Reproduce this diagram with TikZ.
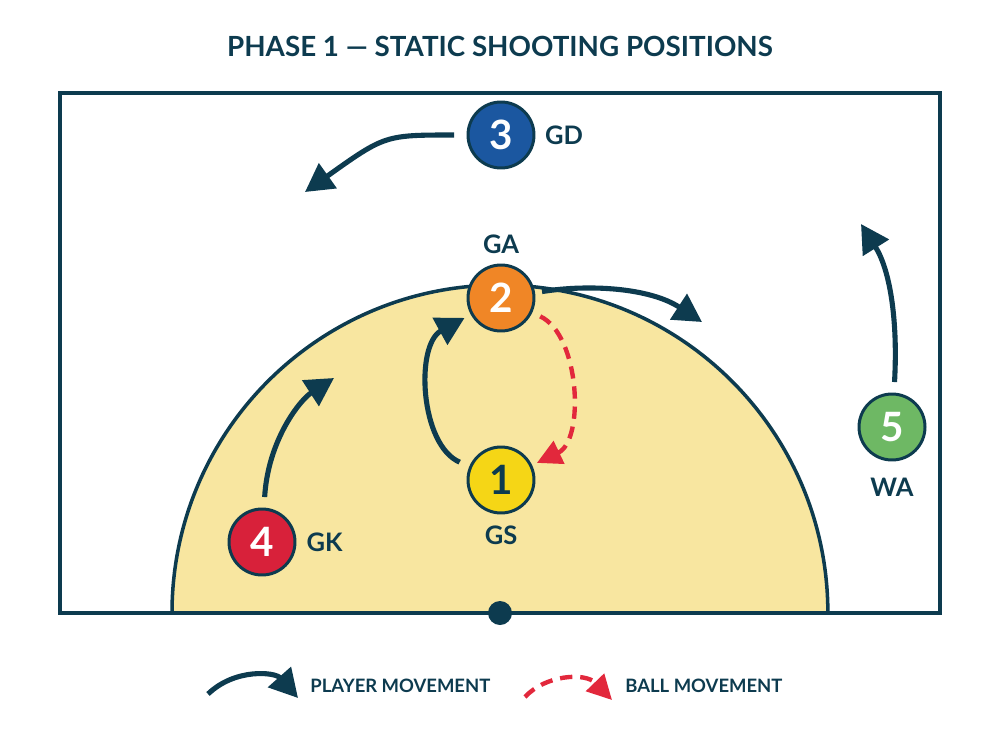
\documentclass[tikz,border=0pt]{standalone}
\usepackage{fontspec}
\setmainfont{Lato}
\usetikzlibrary{
    arrows.meta,
    positioning
}
\definecolor{courtnavy}{RGB}{13,59,79}
\definecolor{courtfill}{RGB}{248,230,160}
\definecolor{gdblue}{RGB}{27,87,160}
\definecolor{gaorange}{RGB}{240,134,38}
\definecolor{gsyellow}{RGB}{245,214,22}
\definecolor{gkred}{RGB}{216,33,58}
\definecolor{wagreen}{RGB}{110,184,100}
\definecolor{ballred}{RGB}{226,40,60}
\tikzset{
  player/.style  = {circle, draw=courtnavy, line width=1.7pt, minimum size=1.32cm,
                    inner sep=0pt, text=white, font=\fontsize{23}{23}\selectfont\bfseries},
  role/.style    = {inner sep=1pt, text=courtnavy, font=\fontsize{14.5}{14.5}\selectfont\bfseries},
  legtxt/.style  = {inner sep=0pt, text=courtnavy, font=\fontsize{10.5}{10.5}\selectfont\bfseries},
  move/.style    = {-{Triangle[length=16pt, width=17pt]}, line width=2.9pt, courtnavy},
  pass/.style    = {-{Triangle[length=14pt, width=14pt]}, line width=2.5pt, ballred,
                    dash pattern=on 7pt off 4.5pt}
}

\begin{document}
\begin{tikzpicture}[x=0.02cm, y=-0.02cm]
  \useasboundingbox (0,0) rectangle (1000,747);
  % title
  \node[text=courtnavy, font=\fontsize{15.8}{15.8}\selectfont\bfseries] (title) at (500,46)
       {PHASE 1 --- STATIC SHOOTING POSITIONS};
  % court
  \fill[courtfill] (172,613) arc[start angle=180, end angle=0, radius=6.56cm] -- cycle;
  \draw[courtnavy, line width=2pt] (172,613) arc[start angle=180, end angle=0, radius=6.56cm];
  \draw[courtnavy, line width=2.3pt] (60,93) rectangle (940,613);
  \node[circle, fill=courtnavy, minimum size=0.48cm, inner sep=0pt] (post) at (500,613) {};
  % players
  \node[player, fill=gsyellow, text=courtnavy] (gs) at (501,480) {1};
  \node[player, fill=gaorange] (ga) at (501,298) {2};
  \node[player, fill=gdblue]   (gd) at (501,135) {3};
  \node[player, fill=gkred]    (gk) at (262,542) {4};
  \node[player, fill=wagreen]  (wa) at (892,427) {5};
  \node[role, right=0.15cm of gd] (gdl) {GD};
  \node[role, above=0.15cm of ga] (gal) {GA};
  \node[role, below=0.18cm of gs] (gsl) {GS};
  \node[role, right=0.16cm of gk] (gkl) {GK};
  \node[role, below=0.28cm of wa] (wal) {WA};
  % movements
  \coordinate (gdto) at (305,192);
  \coordinate (gato) at (702,322);
  \coordinate (gkto) at (334,378);
  \coordinate (wato) at (861,224);
  \draw[move, shorten <=7pt] (gd) .. controls (385,135) .. (gdto);
  \draw[move, shorten <=4pt] (ga) .. controls (590,284) and (650,288) .. (gato);
  \draw[move, shorten <=6pt, shorten >=4pt] (gs) .. controls (420,445) and (415,345) .. (ga);
  \draw[move, shorten <=6pt] (gk) .. controls (268,440) and (300,400) .. (gkto);
  \draw[move, shorten <=6pt] (wa) .. controls (898,320) and (890,270) .. (wato);
  \draw[pass, shorten <=5pt, shorten >=3pt] (ga) .. controls (580,335) and (585,440) .. (gs);
  % legend
  \coordinate (pm0) at (208,694);
  \coordinate (pm1) at (298,698);
  \coordinate (bm0) at (525,697);
  \coordinate (bm1) at (612,700);
  \draw[move] (pm0) .. controls (235,668) and (275,672) .. (pm1);
  \node[legtxt, anchor=west] (pmtxt) at (310,686) {PLAYER MOVEMENT};
  \draw[pass] (bm0) .. controls (545,675) and (585,672) .. (bm1);
  \node[legtxt, anchor=west] (bmtxt) at (625,686) {BALL MOVEMENT};
\end{tikzpicture}
\end{document}
